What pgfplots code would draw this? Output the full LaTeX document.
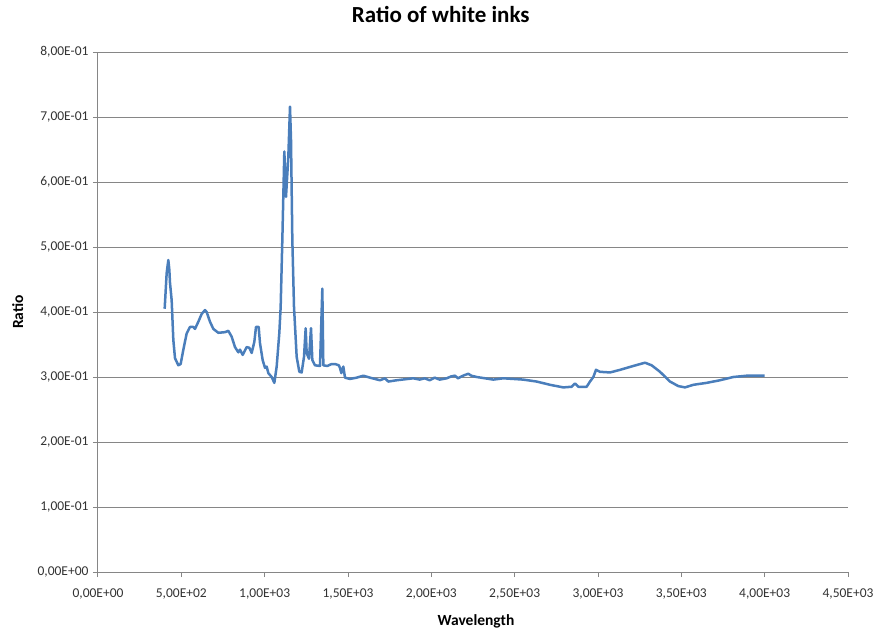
\documentclass[border=0pt]{standalone}
\usepackage{pgfplots}
\pgfplotsset{compat=1.18}
\usepackage{fontspec}
\setmainfont{Carlito}
\definecolor{exblue}{HTML}{4A7EBB}
\definecolor{exgrid}{HTML}{868686}
\begin{document}
\begin{tikzpicture}
\useasboundingbox (-98pt,-60pt) rectangle (784pt,572pt);
\begin{axis}[
  at={(0pt,0pt)}, anchor=south west,
  scale only axis, width=750pt, height=520pt,
  xmin=0, xmax=4500, ymin=0, ymax=0.8,
  axis lines*=left,
  axis line style={exgrid, line width=1pt},
  xtick={0,500,1000,1500,2000,2500,3000,3500,4000,4500},
  xticklabels={{0,00E+00},{5,00E+02},{1,00E+03},{1,50E+03},{2,00E+03},{2,50E+03},{3,00E+03},{3,50E+03},{4,00E+03},{4,50E+03}},
  ytick={0,0.1,0.2,0.3,0.4,0.5,0.6,0.7,0.8},
  yticklabels={{0,00E+00},{1,00E-01},{2,00E-01},{3,00E-01},{4,00E-01},{5,00E-01},{6,00E-01},{7,00E-01},{8,00E-01}},
  tick align=outside,
  major tick length=5pt,
  tick style={exgrid, line width=1pt},
  ymajorgrids,
  major grid style={exgrid, line width=1pt},
  ticklabel style={font=\fontsize{13.5}{15}\selectfont, text=black!80},
  /pgf/number format/assume math mode=true,
  xticklabel style={yshift=-8pt},
  yticklabel style={xshift=-1pt},
  title={Ratio of white inks},
  title style={at={(0.457,1.0615)}, anchor=center, font=\bfseries\fontsize{23}{26}\selectfont},
  xlabel={Wavelength},
  xlabel style={at={(0.504,-0.094)}, anchor=center, font=\bfseries\fontsize{15.5}{17}\selectfont},
  ylabel={Ratio},
  ylabel style={at={(-0.107,0.5)}, anchor=center, rotate=0, font=\bfseries\fontsize{15.5}{17}\selectfont},
]
\addplot[exblue, line width=2.5pt, line join=round, no marks] coordinates {
(400,0.405) (412,0.46) (422,0.48) (428,0.465) (432,0.445) (442,0.418)
(452,0.357) (462,0.329) (482,0.318) (496,0.32) (512,0.342) (532,0.367)
(552,0.377) (572,0.377) (582,0.374) (602,0.385) (622,0.397) (642,0.403)
(652,0.400) (672,0.385) (692,0.374) (722,0.368) (762,0.369) (782,0.371)
(802,0.362) (822,0.346) (842,0.338) (852,0.342) (868,0.334) (892,0.346)
(908,0.345) (922,0.337) (938,0.354) (948,0.377) (964,0.377) (972,0.352)
(988,0.326) (1002,0.314) (1012,0.316) (1022,0.306) (1042,0.300) (1058,0.291)
(1072,0.316) (1088,0.368) (1096,0.408) (1106,0.511) (1118,0.647) (1128,0.577)
(1142,0.639) (1152,0.716) (1158,0.665) (1166,0.511) (1176,0.408) (1192,0.331)
(1208,0.308) (1222,0.307) (1236,0.331) (1246,0.375) (1252,0.337) (1266,0.328)
(1278,0.375) (1286,0.326) (1302,0.318) (1332,0.317) (1346,0.436) (1352,0.318)
(1376,0.317) (1402,0.320) (1422,0.320) (1445,0.318) (1452,0.314) (1460,0.306)
(1472,0.316) (1482,0.299) (1512,0.297) (1552,0.299) (1592,0.302) (1632,0.299)
(1692,0.295) (1722,0.298) (1742,0.293) (1792,0.295) (1892,0.298) (1930,0.296)
(1960,0.298) (1990,0.295) (2020,0.299) (2050,0.296) (2092,0.298) (2120,0.301)
(2142,0.302) (2160,0.298) (2182,0.301) (2200,0.303) (2222,0.305) (2240,0.302)
(2272,0.300) (2372,0.296) (2432,0.298) (2552,0.296) (2632,0.293) (2712,0.288)
(2792,0.284) (2842,0.285) (2862,0.290) (2882,0.285) (2932,0.285) (2952,0.293)
(2972,0.300) (2988,0.311) (3012,0.308) (3072,0.307) (3132,0.311) (3212,0.317)
(3282,0.322) (3322,0.318) (3372,0.308) (3432,0.293) (3482,0.286) (3522,0.284)
(3572,0.288) (3652,0.291) (3732,0.295) (3812,0.300) (3892,0.302) (4000,0.302)
};
\end{axis}
\end{tikzpicture}
\end{document}
